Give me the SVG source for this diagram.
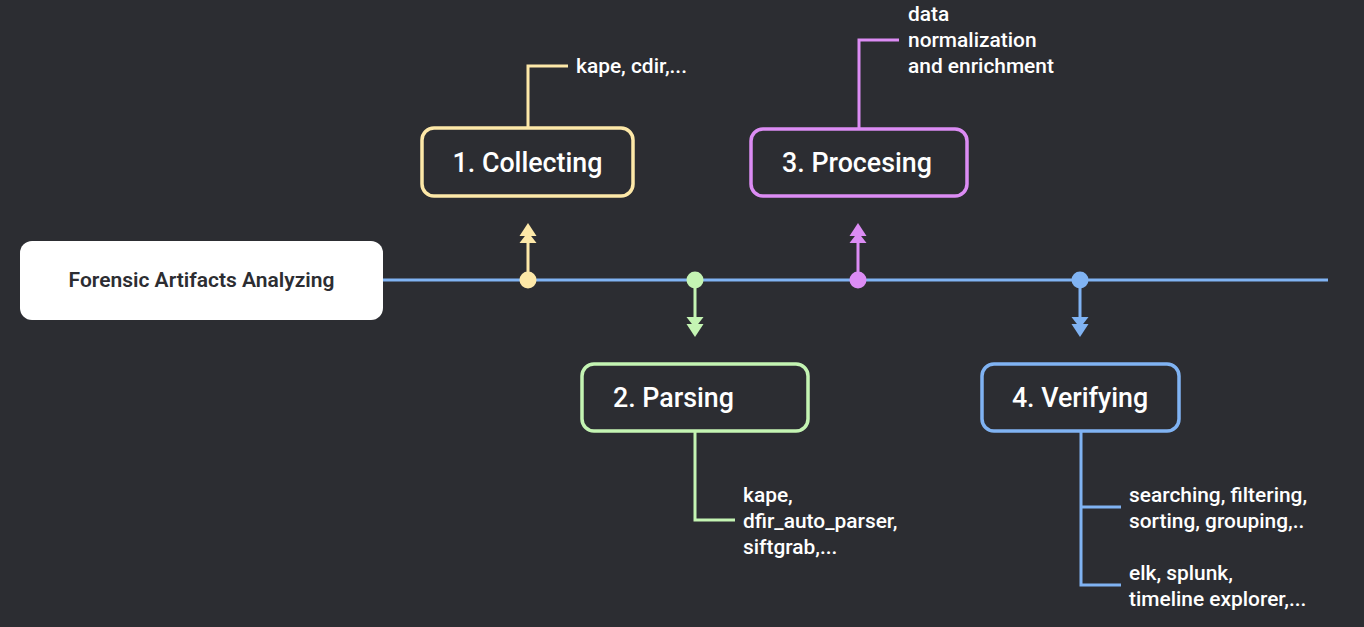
<svg xmlns="http://www.w3.org/2000/svg" width="1364" height="627" viewBox="0 0 1364 627">
<defs>
<style>
.bg{fill:#2c2d32}
.box{fill:#2c2d32;stroke-width:3.5}
.lbl{font-family:Roboto,"Liberation Sans",sans-serif;font-size:26.8px;font-weight:500;fill:#ffffff}
.det{font-family:Roboto,"Liberation Sans",sans-serif;font-size:20.9px;font-weight:500;fill:#ffffff}
.ln{fill:none;stroke-width:3}
.y{stroke:#fde8a8}.yf{fill:#fde8a8}
.g{stroke:#c4f4b3}.gf{fill:#c4f4b3}
.p{stroke:#dc8cf4}.pf{fill:#dc8cf4}
.b{stroke:#80b3f3}.bf{fill:#80b3f3}
</style>
</defs>
<rect class="bg" x="0" y="0" width="1364" height="627"/>
<g id="connectors">
<line x1="383" y1="280" x2="1328" y2="280" class="ln b" stroke-width="4"/>
<line x1="528" y1="280" x2="528" y2="240" class="ln y" stroke-width="4"/>
<polygon class="yf" points="528,223 519.5,236 536.5,236"/>
<polygon class="yf" points="528,232 519.5,243 536.5,243"/>
<circle class="yf" cx="528" cy="280" r="8.5"/>
<line x1="695" y1="280" x2="695" y2="320" class="ln g" stroke-width="4"/>
<polygon class="gf" points="695,337 686.5,324 703.5,324"/>
<polygon class="gf" points="695,328 686.5,317 703.5,317"/>
<circle class="gf" cx="695" cy="280" r="8.5"/>
<line x1="858" y1="280" x2="858" y2="240" class="ln p" stroke-width="4"/>
<polygon class="pf" points="858,223 849.5,236 866.5,236"/>
<polygon class="pf" points="858,232 849.5,243 866.5,243"/>
<circle class="pf" cx="858" cy="280" r="8.5"/>
<line x1="1080" y1="280" x2="1080" y2="320" class="ln b" stroke-width="4"/>
<polygon class="bf" points="1080,337 1071.5,324 1088.5,324"/>
<polygon class="bf" points="1080,328 1071.5,317 1088.5,317"/>
<circle class="bf" cx="1080" cy="280" r="8.5"/>
<polyline class="ln y" points="528,127 528,66 568,66"/>
<polyline class="ln p" points="859,128 859,40 899,40"/>
<polyline class="ln g" points="695,432 695,520 735,520"/>
<polyline class="ln b" points="1081,432 1081,585 1121,585"/>
<line class="ln b" x1="1081" y1="507" x2="1121" y2="507"/>
</g>
<g id="root">
<rect x="20" y="241" width="363" height="79" rx="12" fill="#ffffff"/>
<text x="201.5" y="287" text-anchor="middle" font-family="Roboto,'Liberation Sans',sans-serif" font-size="21" font-weight="600" fill="#2c2d32">Forensic Artifacts Analyzing</text>
</g>
<g id="collecting">
<rect class="box y" x="422" y="128" width="211" height="68" rx="12"/>
<text class="lbl" x="527.5" y="172" text-anchor="middle">1. Collecting</text>
</g>
<g id="collecting-detail">
<text class="det" x="576" y="73">kape, cdir,...</text>
</g>
<g id="procesing">
<rect class="box p" x="751" y="129" width="216" height="67" rx="12"/>
<text class="lbl" x="857" y="172" text-anchor="middle">3. Procesing</text>
</g>
<g id="procesing-detail">
<text class="det" x="908" y="21">data</text>
<text class="det" x="908" y="47">normalization</text>
<text class="det" x="908" y="73">and enrichment</text>
</g>
<g id="parsing">
<rect class="box g" x="582" y="364" width="226" height="67" rx="12"/>
<text class="lbl" x="613" y="407">2. Parsing</text>
</g>
<g id="parsing-detail">
<text class="det" x="743" y="502">kape,</text>
<text class="det" x="743" y="528">dfir_auto_parser,</text>
<text class="det" x="743" y="554">siftgrab,...</text>
</g>
<g id="verifying">
<rect class="box b" x="982" y="364" width="197" height="67" rx="12"/>
<text class="lbl" x="1080" y="407" text-anchor="middle">4. Verifying</text>
</g>
<g id="verifying-detail-1">
<text class="det" x="1129" y="502">searching, filtering,</text>
<text class="det" x="1129" y="528">sorting, grouping,..</text>
</g>
<g id="verifying-detail-2">
<text class="det" x="1129" y="580">elk, splunk,</text>
<text class="det" x="1129" y="606">timeline explorer,...</text>
</g>
</svg>
